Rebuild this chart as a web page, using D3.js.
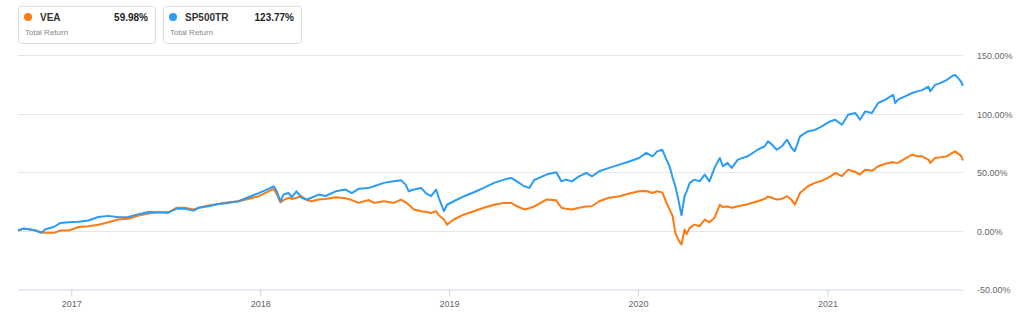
<!DOCTYPE html>
<html>
<head>
<meta charset="utf-8">
<script src="https://cdn.jsdelivr.net/npm/d3@7"></script>
<style>
  body { margin: 0; background: #fff; font-family: "Liberation Sans", Arial, sans-serif; }
  svg text { font-family: "Liberation Sans", Arial, sans-serif; }
</style>
</head>
<body>
<svg id="chart" width="1024" height="320"></svg>
<script>
const dates = [
  "2016-09-20","2016-10-01","2016-10-14","2016-10-24","2016-11-04","2016-11-12","2016-11-28","2016-12-11","2016-12-27",
  "2017-01-15","2017-02-03","2017-02-22","2017-03-14","2017-04-02","2017-04-21","2017-05-11","2017-05-30","2017-06-18",
  "2017-07-07","2017-07-23","2017-08-09","2017-08-25","2017-09-04","2017-09-23","2017-10-12","2017-11-01","2017-11-20",
  "2017-12-09","2017-12-29","2018-01-17","2018-01-27","2018-02-02","2018-02-09","2018-02-15","2018-02-25","2018-03-03",
  "2018-03-12","2018-03-22","2018-04-01","2018-04-10","2018-04-24","2018-05-07","2018-05-27","2018-06-15","2018-06-27",
  "2018-07-10","2018-07-30","2018-08-09","2018-08-28","2018-09-16","2018-09-30","2018-10-09","2018-10-15","2018-10-25",
  "2018-11-08","2018-11-17","2018-11-27","2018-12-07","2018-12-12","2018-12-22","2018-12-28","2019-01-10","2019-01-30",
  "2019-02-18","2019-03-09","2019-03-29","2019-04-17","2019-05-01","2019-05-12","2019-05-26","2019-06-05","2019-06-14",
  "2019-06-24","2019-07-08","2019-07-27","2019-08-06","2019-08-15","2019-08-26","2019-09-09","2019-09-23","2019-10-04",
  "2019-10-18","2019-11-06","2019-11-26","2019-12-15","2020-01-03","2020-01-17","2020-01-29","2020-02-07","2020-02-17",
  "2020-02-25","2020-03-02","2020-03-08","2020-03-13","2020-03-19","2020-03-25","2020-03-31","2020-04-04","2020-04-10",
  "2020-04-19","2020-04-29","2020-05-09","2020-05-18","2020-05-28","2020-06-07","2020-06-13","2020-06-22","2020-06-30",
  "2020-07-12","2020-07-31","2020-08-19","2020-09-02","2020-09-08","2020-09-16","2020-09-25","2020-10-05","2020-10-15",
  "2020-10-24","2020-10-30","2020-11-09","2020-11-24","2020-12-08","2020-12-21","2021-01-06","2021-01-16","2021-01-29",
  "2021-02-10","2021-02-24","2021-03-05","2021-03-15","2021-03-28","2021-04-09","2021-04-23","2021-05-08","2021-05-12",
  "2021-05-18","2021-05-31","2021-06-14","2021-06-23","2021-07-03","2021-07-15","2021-07-19","2021-07-28","2021-08-07",
  "2021-08-20","2021-08-30","2021-09-05","2021-09-11","2021-09-16","2021-09-20"
];

// total return, percent
const spxValues = [
  0, 1.7, 0.8, 0, -2, 1, 3, 6.5, 7,
  7.5, 8.5, 11.5, 12.5, 11.3, 11.5, 14, 15.8, 15.5,
  15.5, 18.5, 18.5, 17, 19.4, 20.7, 22.7, 23.6, 25,
  28.4, 32, 35.6, 37.8, 33.5, 25, 30.7, 32, 28.5,
  33.5, 28, 26.5, 28, 30.7, 29.5, 33.5, 35, 32,
  35.6, 36.4, 37.8, 40.7, 42, 43, 39.2, 33.5, 35,
  36.4, 32, 29.3, 35, 28, 16.5, 22, 25, 29.3,
  32.7, 36.4, 40.7, 43.5, 45, 42, 37.8, 36.4, 43,
  45, 47.8, 49.8, 42, 43.5, 42, 46.3, 49.2, 46.3,
  50.6, 53.5, 56.3, 59, 62, 66.3, 63.4, 67.6, 69,
  60.6, 54.8, 45, 38, 26.4, 13, 29.3, 33.5, 40.7,
  43.5, 42, 47.8, 42, 53.5, 62, 54.9, 57.8, 53.5,
  60.6, 63.4, 69, 72, 76.2, 73.4, 69, 72, 77.6,
  70.5, 67.7, 80.4, 84.7, 86, 89, 93.2, 94.7, 90.4,
  99, 100.4, 94.7, 101.8, 100.4, 109, 111.8, 116, 109,
  112, 114.6, 117.5, 118.9, 120, 123, 119, 124.5, 126,
  128.8, 132, 133, 130, 127.4, 123.77
];

const veaValues = [
  0, 1.5, 0.8, 0, -1.5, -2, -2, 0, 0,
  3, 3.7, 5, 7, 9.4, 10, 12.8, 14.5, 15.5,
  15, 19.4, 19.4, 18, 19.4, 21.3, 22.7, 24.2, 25,
  27, 29.3, 33.5, 35.6, 31, 24, 26, 28, 27,
  28, 29.3, 26, 25, 26.5, 27, 28.5, 27.5, 26,
  23.6, 26, 23.6, 25, 23.6, 26.4, 24, 22, 18,
  16.5, 16, 15, 16.5, 13, 9.4, 5, 9.4, 13.7,
  16.5, 19.4, 22, 23.6, 23.6, 20.7, 18, 19, 20.5,
  23, 26.4, 25.8, 19.4, 18.5, 18, 19.4, 20.5, 20.7,
  25, 28, 29.3, 31.6, 33.5, 33.8, 32, 33.5, 32.5,
  23.6, 18, 12.2, -2, -8, -12, 0.8, -3, 2.3,
  5, 3.7, 9.4, 7, 11, 22, 20, 20.5, 19.4,
  20.7, 22.5, 25, 27, 29, 28, 26.4, 27, 29.3,
  26, 22, 32, 37.8, 40.7, 42.5, 46, 49.2, 46.5,
  52, 50, 47.8, 52, 51, 54.9, 57, 58.5, 57.8,
  58, 61.5, 64.8, 63.5, 63.4, 60.6, 57.8, 62, 62.5,
  63.4, 66.3, 67.6, 65.5, 64, 59.98
];

const seriesNames = ["VEA", "SP500TR"];
const seriesColors = ["#fd7b12", "#2a9cf5"];
const lastValues = ["59.98%", "123.77%"];
const yTicks = [-50, 0, 50, 100, 150];
const xTickYears = ["2017", "2018", "2019", "2020", "2021"];

const parse = d3.timeParse("%Y-%m-%d");
const parsedDates = dates.map(parse);

const svg = d3.select("#chart");
const plot = { left: 18, right: 963, top: 55, bottom: 289 };

const x = d3.scaleTime()
  .domain(d3.extent(parsedDates))
  .range([plot.left, plot.right]);

const y = d3.scaleLinear()
  .domain([-50, 150])
  .range([plot.bottom, plot.top]);

// grid lines
svg.append("g")
  .selectAll("line")
  .data(yTicks.filter(d => d !== -50))
  .enter()
  .append("line")
    .attr("x1", plot.left)
    .attr("x2", plot.right)
    .attr("y1", d => Math.round(y(d)) + 0.5)
    .attr("y2", d => Math.round(y(d)) + 0.5)
    .attr("stroke", "#e6e6e6")
    .attr("stroke-width", 1);

// y labels on the right
svg.append("g")
  .selectAll("text")
  .data(yTicks)
  .enter()
  .append("text")
    .attr("x", 977)
    .attr("y", d => y(d) + 4)
    .attr("fill", "#666")
    .style("font-size", "9px")
    .text(d => d.toFixed(2) + "%");

// x axis
const xAxis = d3.axisBottom(x)
  .tickValues(xTickYears.map(d => d3.timeParse("%Y")(d)))
  .tickFormat(d3.timeFormat("%Y"))
  .tickSize(7)
  .tickSizeOuter(0)
  .tickPadding(4);

const gx = svg.append("g")
  .attr("transform", `translate(0,${Math.round(y(-50)) + 0.5})`)
  .call(xAxis);
gx.select(".domain").attr("stroke", "#ccd6eb");
gx.selectAll(".tick line").attr("stroke", "#ccd6eb");
gx.selectAll(".tick text")
  .attr("fill", "#666")
  .style("font-size", "9px")
  .style("font-family", "'Liberation Sans', Arial, sans-serif");

// lines
const line = d3.line()
  .x((d, i) => x(parsedDates[i]))
  .y(d => y(d));

[veaValues, spxValues].forEach((vals, i) => {
  svg.append("path")
    .datum(vals)
    .attr("fill", "none")
    .attr("stroke", seriesColors[i])
    .attr("stroke-width", 2)
    .attr("stroke-linejoin", "round")
    .attr("d", line);
});

// legend boxes
const boxes = [{ x: 18, w: 137 }, { x: 163, w: 138 }];
boxes.forEach((b, i) => {
  const g = svg.append("g").attr("transform", `translate(${b.x},6)`);
  g.append("rect")
    .attr("x", 0.5).attr("y", 0.5)
    .attr("width", b.w).attr("height", 37)
    .attr("rx", 3)
    .attr("fill", "#fff")
    .attr("stroke", "#dcdcdc");
  g.append("circle")
    .attr("cx", 10).attr("cy", 11)
    .attr("r", 4)
    .attr("fill", seriesColors[i]);
  g.append("text")
    .attr("x", 22).attr("y", 15)
    .attr("fill", "#333")
    .style("font-size", "10px")
    .style("font-weight", "bold")
    .text(seriesNames[i]);
  g.append("text")
    .attr("x", b.w - 7).attr("y", 15)
    .attr("text-anchor", "end")
    .attr("fill", "#222")
    .style("font-size", "10px")
    .style("font-weight", "bold")
    .text(lastValues[i]);
  g.append("text")
    .attr("x", 7).attr("y", 29)
    .attr("fill", "#888")
    .style("font-size", "8px")
    .text("Total Return");
});
</script>
</body>
</html>
